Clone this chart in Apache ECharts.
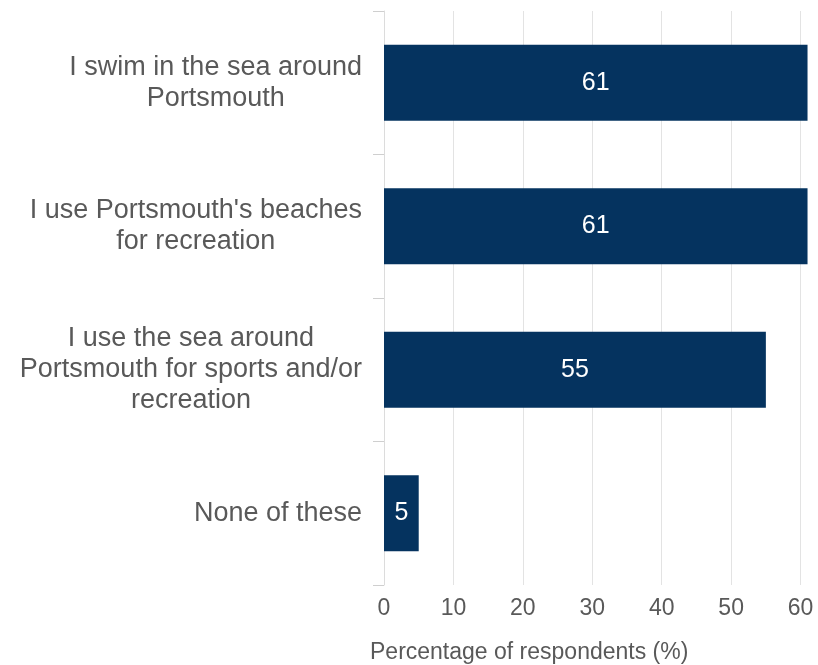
<!DOCTYPE html>
<html>
<head>
<meta charset="utf-8">
<title>Percentage of respondents</title>
<script src="https://cdn.jsdelivr.net/npm/echarts@6/dist/echarts.min.js"></script>
<style>
  html, body { margin: 0; padding: 0; background: #ffffff; }
  #chart { width: 818px; height: 665px; }
</style>
</head>
<body>
<div id="chart"></div>
<script>
// Survey statements (top to bottom) and share of respondents, %
const categories = [
  "I swim in the sea around\nPortsmouth",
  "I use Portsmouth's beaches\nfor recreation",
  "I use the sea around\nPortsmouth for sports and/or\nrecreation",
  "None of these"
];
const values = [61, 61, 55, 5];
const xTicks = [0, 10, 20, 30, 40, 50, 60];
const axisTitle = "Percentage of respondents (%)";

const FONT = "'Liberation Sans', Arial, sans-serif";
const TEXT = "#595959";

const chart = echarts.init(document.getElementById("chart"), null, { renderer: "canvas" });

chart.setOption({
  animation: false,
  backgroundColor: "#ffffff",
  textStyle: { fontFamily: FONT },
  title: {
    text: axisTitle,
    left: 370,
    top: 641,
    padding: 0,
    textStyle: { fontFamily: FONT, fontSize: 23, fontWeight: "normal", color: TEXT }
  },
  grid: { left: 384, right: 7, top: 11, bottom: 80, containLabel: false },
  xAxis: {
    type: "value",
    min: 0,
    max: 61.5,
    interval: 10,
    axisLine: { show: false },
    axisTick: { show: false },
    splitLine: { show: true, showMinLine: false, showMaxLine: false, lineStyle: { color: "#e3e3e3", width: 1 } },
    axisLabel: {
      margin: 12,
      fontSize: 23,
      color: TEXT,
      fontFamily: FONT,
      showMaxLabel: false,
      formatter: v => (xTicks.indexOf(v) >= 0 ? String(v) : "")
    }
  },
  yAxis: {
    type: "category",
    data: categories,
    inverse: true,
    axisLine: { show: true, lineStyle: { color: "#dcdcdc", width: 1 } },
    axisTick: { show: true, length: 11, lineStyle: { color: "#cfcfcf" } },
    splitLine: { show: false },
    axisLabel: {
      margin: 22,
      color: TEXT,
      fontFamily: FONT,
      fontSize: 27,
      lineHeight: 31,
      align: "right",
      formatter: v => v.split("\n").map(l => "{c|" + l + "}").join("\n"),
      rich: {
        c: { align: "center", fontSize: 27, lineHeight: 31, color: TEXT, fontFamily: FONT }
      }
    }
  },
  series: [{
    type: "bar",
    data: values,
    barCategoryGap: "47%",
    itemStyle: { color: "#05335f" },
    label: {
      show: true,
      position: "inside",
      color: "#ffffff",
      fontSize: 25,
      fontFamily: FONT,
      formatter: p => String(p.value)
    }
  }]
});
</script>
</body>
</html>
